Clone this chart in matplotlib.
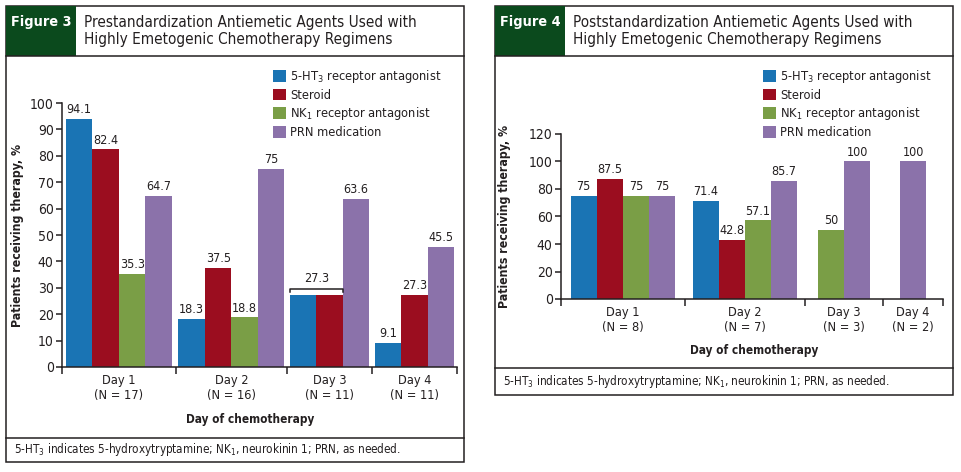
import matplotlib
matplotlib.use('Agg')
import matplotlib.pyplot as plt
from matplotlib import font_manager
from matplotlib.patches import Rectangle

# prefer a condensed sans if one is installed, else Liberation Sans
cond = font_manager.FontProperties(family='DejaVu Sans', stretch='condensed')
if 'Condensed' in font_manager.findfont(cond, fallback_to_default=False):
    plt.rcParams['font.family'] = ['DejaVu Sans']
    plt.rcParams['font.stretch'] = 'condensed'
    base_font = 'DejaVu Sans'
    k = 0.96
else:
    plt.rcParams['font.family'] = ['Liberation Sans', 'DejaVu Sans']
    base_font = 'Liberation Sans'
    k = 1.0
plt.rcParams['mathtext.fontset'] = 'custom'
plt.rcParams['mathtext.rm'] = base_font

# Series shared by both figures
series_names = ['5-HT$_\\mathregular{3}$ receptor antagonist', 'Steroid',
                'NK$_\\mathregular{1}$ receptor antagonist', 'PRN medication']
colors = ['#1a74b4', '#9b0d1f', '#7a9e46', '#8b72aa']

# Figure 3 data (prestandardization)
fig3_days = ['Day 1\n(N = 17)', 'Day 2\n(N = 16)', 'Day 3\n(N = 11)', 'Day 4\n(N = 11)']
fig3_5ht3 = [94.1, 18.3, 27.3, 9.1]
fig3_steroid = [82.4, 37.5, 27.3, 27.3]
fig3_nk1 = [35.3, 18.8, None, None]
fig3_prn = [64.7, 75, 63.6, 45.5]

# Figure 4 data (poststandardization)
fig4_days = ['Day 1\n(N = 8)', 'Day 2\n(N = 7)', 'Day 3\n(N = 3)', 'Day 4\n(N = 2)']
fig4_5ht3 = [75, 71.4, None, None]
fig4_steroid = [87.5, 42.8, None, None]
fig4_nk1 = [75, 57.1, 50, None]
fig4_prn = [75, 85.7, 100, 100]

footnote = '5-HT$_\\mathregular{3}$ indicates 5-hydroxytryptamine; NK$_\\mathregular{1}$, neurokinin 1; PRN, as needed.'

W, H = 962, 472
fig = plt.figure(figsize=(W / 100, H / 100), dpi=100)

# overlay in pixel coordinates for the frames and headers
bg = fig.add_axes([0, 0, 1, 1], zorder=-1)
bg.set_xlim(0, W)
bg.set_ylim(H, 0)
bg.axis('off')

edge = '#231f20'


def frame(x0, x1, y_bottom, y_note, num, title):
    bg.add_patch(Rectangle((x0, 6), x1 - x0, y_bottom - 6, fill=False, lw=1.1, ec=edge))
    bg.add_patch(Rectangle((x0, 6), 70, 50, fc='#0b4a1d', ec='none'))
    bg.plot([x0, x1], [56, 56], color=edge, lw=1.1)
    bg.plot([x0, x1], [y_note, y_note], color=edge, lw=1.1)
    bg.text(x0 + 35, 22, num, color='white', fontsize=10.8 * k, fontweight='bold',
            ha='center', va='center')
    bg.text(x0 + 78, 31, title, color=edge, fontsize=11.4 * k, ha='left',
            va='center', linespacing=1.2)
    bg.text(x0 + 8, (y_note + y_bottom) / 2, footnote, fontsize=8.7 * k,
            ha='left', va='center', color=edge)


frame(6, 464, 462, 438, 'Figure 3',
      'Prestandardization Antiemetic Agents Used with\nHighly Emetogenic Chemotherapy Regimens')
frame(495, 953, 395, 368, 'Figure 4',
      'Poststandardization Antiemetic Agents Used with\nHighly Emetogenic Chemotherapy Regimens')


def panel(rect_px, days, series, spans, ymax, step, shared_group=None, ylab_x=-0.11,
          xlab_pos=(0.5, -0.2), legend_px=(0, 0)):
    left, right, y0, ytop = rect_px
    ax = fig.add_axes([left / W, (H - y0) / H, (right - left) / W, (y0 - ytop) / H])
    ax.set_xlim(0, sum(spans))
    ax.set_ylim(0, ymax)
    ax.patch.set_visible(False)
    starts = [sum(spans[:i]) for i in range(len(spans))]
    handles = [None] * len(series)
    for g in range(len(days)):
        present = [s for s in range(len(series)) if series[s][g] is not None]
        x_first = starts[g] + (spans[g] - len(present)) / 2
        for j, s in enumerate(present):
            v = series[s][g]
            b = ax.bar(x_first + j + 0.5, v, width=1.0, color=colors[s], zorder=2)
            handles[s] = b
            if shared_group == g and j < 2:
                continue
            ax.annotate(f'{v:g}', (x_first + j + 0.5, v), xytext=(0, 2),
                        textcoords='offset points', ha='center', va='bottom',
                        fontsize=9.4 * k, color=edge, annotation_clip=False)
        if shared_group == g:
            v = series[present[0]][g]
            xa, xb = x_first, x_first + 2
            yb = v + ymax * 0.023
            ax.plot([xa, xa, xb, xb], [yb - ymax * 0.012, yb, yb, yb - ymax * 0.012],
                    color=edge, lw=1.1, clip_on=False, zorder=3)
            ax.annotate(f'{v:g}', ((xa + xb) / 2, yb), xytext=(0, 3),
                        textcoords='offset points', ha='center', va='bottom',
                        fontsize=9.4 * k, color=edge)
    for sp in ['top', 'right']:
        ax.spines[sp].set_visible(False)
    for sp in ['left', 'bottom']:
        ax.spines[sp].set_color(edge)
        ax.spines[sp].set_linewidth(1.1)
    ax.set_yticks(range(0, ymax + 1, step))
    ax.tick_params(axis='y', direction='out', length=4, width=1.1, color=edge,
                   labelsize=10.4 * k, pad=2, labelcolor=edge)
    ax.set_xticks(starts + [sum(spans)])
    ax.set_xticklabels([])
    ax.tick_params(axis='x', which='major', direction='out', length=5, width=1.1, color=edge)
    ax.set_xticks([starts[i] + spans[i] / 2 for i in range(len(spans))], minor=True)
    ax.set_xticklabels(days, minor=True, fontsize=9.6 * k, linespacing=1.2, color=edge)
    ax.tick_params(axis='x', which='minor', length=0, pad=5)
    ax.set_ylabel('Patients receiving therapy, %', fontsize=9.2 * k, fontweight='bold',
                  color=edge, va='center')
    ax.yaxis.set_label_coords(ylab_x, 0.5)
    ax.set_xlabel('Day of chemotherapy', fontsize=8.8 * k, fontweight='bold', color=edge,
                  va='center')
    ax.xaxis.set_label_coords(*xlab_pos)
    ax.legend(handles, series_names, loc='upper left', frameon=False, fontsize=9.6 * k,
              bbox_to_anchor=(legend_px[0] / W, 1 - legend_px[1] / H),
              bbox_transform=fig.transFigure, borderpad=0, borderaxespad=0,
              handlelength=1.05, handleheight=1.05, handletextpad=0.3,
              labelspacing=0.28, labelcolor=edge)
    return ax


panel((62, 457, 367, 103), fig3_days, [fig3_5ht3, fig3_steroid, fig3_nk1, fig3_prn],
      [4.3, 4.19, 3.21, 3.21], 100, 10, shared_group=2, ylab_x=-0.112,
      xlab_pos=(0.476, -0.2), legend_px=(273, 68))
panel((561, 943, 299, 134), fig4_days, [fig4_5ht3, fig4_steroid, fig4_nk1, fig4_prn],
      [4.73, 4.58, 2.98, 2.29], 120, 20, ylab_x=-0.147,
      xlab_pos=(0.506, -0.31), legend_px=(763, 68))

fig.savefig('out.png', dpi=100)
